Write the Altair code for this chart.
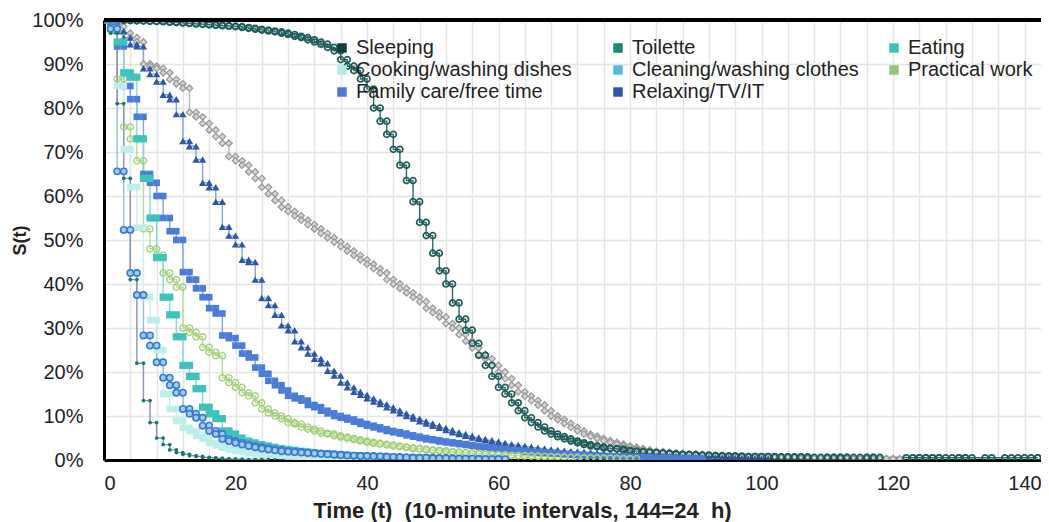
import altair as alt
import pandas as pd

# ---- legend entries (row-major, 3 columns) ----
names = ["Sleeping", "Toilette", "Eating",
         "Cooking/washing dishes", "Cleaning/washing clothes", "Practical work",
         "Family care/free time", "Relaxing/TV/IT"]
legend_colors = ["#103e3e", "#13877b", "#3dc1ba",
                 "#b3ebe5", "#5bb5dd", "#93c47d",
                 "#4a78d8", "#2d56a3"]
other_name = "Other"

# ---- survival values S(t), t = 0,1,2,... (None = no observation) ----
sleeping = [1.0,
    1.0, 1.0, 0.999, 0.999, 0.998, 0.998, 0.997, 0.997, 0.996, 0.995,
    0.994, 0.993, 0.992, 0.991, 0.990, 0.989, 0.988, 0.987, 0.986, 0.985,
    0.983, 0.981, 0.979, 0.977, 0.975, 0.973, 0.970, 0.967, 0.963, 0.960,
    0.955, 0.950, 0.945, 0.938, 0.930, 0.910, 0.895, 0.885, 0.866, 0.843,
    0.800, 0.770, 0.740, 0.706, 0.670, 0.635, 0.587, 0.540, 0.510, 0.470,
    0.430, 0.400, 0.357, 0.320, 0.295, 0.265, 0.238, 0.215, 0.190, 0.165,
    0.150, 0.130, 0.112, 0.096, 0.085, 0.075, 0.066, 0.059, 0.053, 0.048,
    0.043, 0.039, 0.035, 0.032, 0.030, 0.027, 0.026, 0.025, 0.022, 0.020,
    0.019, 0.018, 0.017, 0.016, 0.015, 0.014, 0.013, 0.012, 0.012, 0.011,
    0.011, 0.010, 0.010, 0.009, 0.009, 0.009, 0.008, 0.008, 0.008, 0.008,
    0.008, 0.007, 0.007, 0.007, 0.007, 0.007, 0.006, None, 0.006, 0.006,
    0.006, 0.006, 0.006, None, 0.006, 0.006, 0.006, None, None, None,
    None, 0.005, 0.005, 0.005, 0.005, 0.005, 0.005, None, 0.005, 0.005,
    0.005, None, None, 0.005, None, None, 0.005, None, 0.005, None,
    0.005, 0.005]
toilette = [1.0,
    0.97, 0.81, 0.64, 0.41, 0.22, 0.135, 0.085, 0.05, 0.035, 0.023,
    0.017, 0.013, 0.010, 0.008, 0.006, 0.005, 0.004, 0.003, 0.002, 0.002,
    0.001, 0.001, 0.001, 0.001, 0.0005]
eating = [1.0,
    0.98, 0.95, 0.88, 0.87, 0.73, 0.64, 0.55, 0.46, 0.37, 0.33,
    0.28, 0.215, 0.19, 0.162, 0.12, 0.105, 0.094, 0.066, 0.059, 0.05,
    0.043, 0.039, 0.035, 0.032, 0.029, 0.026, 0.024, 0.022, 0.02, 0.018,
    0.016, 0.015, 0.014, 0.013, 0.012, 0.011, 0.010, 0.009, 0.008, 0.008,
    0.007, 0.006, 0.006, 0.005, 0.005, 0.004, 0.004, 0.003, 0.003, 0.003]
cooking = [1.0,
    0.98, 0.85, 0.706, 0.62, 0.528, 0.37, 0.318, 0.25, 0.15, 0.116,
    0.089, 0.073, 0.066, 0.055, 0.048, 0.039, 0.033, 0.028, 0.024, 0.021,
    0.018, 0.016, 0.014, 0.012, 0.011, 0.010, 0.009, 0.008, 0.007, 0.006,
    0.005, 0.005, 0.004, 0.004, 0.003, 0.003, 0.003, 0.002, 0.002, 0.002]
cleaning = [1.0,
    0.98, 0.656, 0.523, 0.425, 0.375, 0.283, 0.26, 0.222, 0.187, 0.17,
    0.153, 0.116, 0.105, 0.096, 0.078, 0.066, 0.059, 0.048, 0.043, 0.039,
    0.035, 0.032, 0.029, 0.026, 0.024, 0.022, 0.02, 0.019, 0.018, 0.017,
    0.016, 0.015, 0.014, 0.013, 0.012, 0.011, 0.010, 0.010, 0.009, 0.009,
    0.008, 0.008, 0.007, 0.007, 0.006, 0.006, 0.005, 0.005, 0.005, 0.004,
    0.004, 0.004, 0.003, 0.003, 0.003, 0.003, 0.002, 0.002, 0.002, 0.002]
practical = [1.0,
    0.98, 0.866, 0.757, 0.73, 0.68, 0.525, 0.48, 0.466, 0.425, 0.41,
    0.393, 0.30, 0.29, 0.28, 0.256, 0.245, 0.237, 0.187, 0.176, 0.165,
    0.153, 0.146, 0.13, 0.116, 0.107, 0.10, 0.094, 0.085, 0.082, 0.075,
    0.07, 0.066, 0.061, 0.059, 0.055, 0.052, 0.049, 0.046, 0.043, 0.04,
    0.038, 0.036, 0.034, 0.032, 0.03, 0.028, 0.026, 0.025, 0.023, 0.022,
    0.021, 0.019, 0.018, 0.017, 0.016, 0.015, 0.014, 0.013, 0.012, 0.012,
    0.011, 0.010, 0.010, 0.009, 0.009, 0.008, 0.008, 0.007, 0.007, 0.006,
    0.006, 0.005, 0.005, 0.005, 0.004, 0.004, 0.004, 0.003, 0.003, 0.003]
family = [1.0,
    0.99, 0.94, 0.85, 0.82, 0.78, 0.65, 0.63, 0.60, 0.55, 0.52,
    0.50, 0.427, 0.41, 0.39, 0.37, 0.345, 0.333, 0.283, 0.277, 0.26,
    0.242, 0.233, 0.21, 0.196, 0.18, 0.17, 0.158, 0.146, 0.14, 0.135,
    0.125, 0.12, 0.112, 0.106, 0.10, 0.096, 0.092, 0.087, 0.082, 0.078,
    0.074, 0.07, 0.066, 0.063, 0.06, 0.056, 0.053, 0.05, 0.047, 0.045,
    0.042, 0.04, 0.038, 0.036, 0.034, 0.032, 0.03, 0.028, 0.026, 0.025,
    0.023, 0.022, 0.021, 0.019, 0.018, 0.017, 0.016, 0.015, 0.014, 0.013,
    0.012, 0.011, 0.011, 0.010, 0.009, 0.009, 0.008, 0.008, 0.007, 0.007,
    0.006, 0.006, 0.005, 0.005, 0.005, 0.004, 0.004, 0.004, 0.003, 0.003]
relaxing = [1.0,
    0.99, 0.975, 0.96, 0.945, 0.94, 0.89, 0.877, 0.86, 0.83, 0.82,
    0.786, 0.725, 0.713, 0.683, 0.63, 0.62, 0.587, 0.53, 0.51, 0.49,
    0.455, 0.45, 0.41, 0.368, 0.352, 0.33, 0.306, 0.295, 0.27, 0.256,
    0.242, 0.23, 0.22, 0.203, 0.192, 0.176, 0.165, 0.155, 0.148, 0.14,
    0.133, 0.127, 0.12, 0.113, 0.106, 0.10, 0.094, 0.088, 0.083, 0.078,
    0.073, 0.068, 0.063, 0.059, 0.055, 0.051, 0.048, 0.045, 0.042, 0.039,
    0.036, 0.034, 0.032, 0.03, 0.028, 0.026, 0.024, 0.023, 0.021, 0.02,
    0.019, 0.018, 0.017, 0.016, 0.015, 0.014, 0.013, 0.012, 0.011, 0.011,
    0.010, 0.010, 0.009, 0.009, 0.008, 0.008, 0.007, 0.007, 0.006, 0.006,
    0.005, 0.005, 0.005, 0.004, 0.004, 0.004, 0.003, 0.003, 0.003, 0.003]
other = [1.0,
    0.99, 0.985, 0.97, 0.96, 0.95, 0.90, 0.895, 0.89, 0.88, 0.865,
    0.855, 0.845, 0.79, 0.78, 0.765, 0.75, 0.735, 0.72, 0.69, 0.68,
    0.67, 0.655, 0.64, 0.62, 0.605, 0.59, 0.575, 0.565, 0.555, 0.545,
    0.535, 0.525, 0.515, 0.505, 0.495, 0.485, 0.475, 0.465, 0.455, 0.445,
    0.435, 0.425, 0.41, 0.40, 0.39, 0.38, 0.37, 0.36, 0.345, 0.335,
    0.325, 0.31, 0.30, 0.285, 0.27, 0.255, 0.24, 0.23, 0.215, 0.20,
    0.185, 0.17, 0.155, 0.145, 0.135, 0.125, 0.112, 0.10, 0.092, 0.083,
    0.074, 0.066, 0.059, 0.054, 0.049, 0.044, 0.040, 0.036, 0.032, 0.029,
    0.026, 0.023, 0.020, 0.019, 0.017, 0.016, 0.015, 0.014, 0.013, 0.012,
    0.011, 0.010, 0.009, 0.009, 0.008, 0.008, 0.007, 0.007, 0.006, 0.006,
    0.006, 0.005, 0.005, 0.005, 0.005, 0.004, 0.004, 0.004, 0.004, 0.004,
    0.003, 0.003, 0.003, 0.003, 0.003, 0.003, 0.003, 0.003, 0.003, 0.003]

x_ticks = list(range(0, 141, 4))
y_ticks = [0, 0.1, 0.2, 0.3, 0.4, 0.5, 0.6, 0.7, 0.8, 0.9, 1.0]

# ---- per-series style: (values, line colour, marker options) ----
styles = {
    other_name: (other, "#b8b8b8",
                 dict(shape="diamond", filled=True, fill="#d6d6d6", stroke="#9a9a9a", strokeWidth=1.3, size=42)),
    "Sleeping": (sleeping, "#2b6b6b",
                 dict(shape="circle", filled=False, stroke="#1f5d5b", strokeWidth=1.7, size=36)),
    "Relaxing/TV/IT": (relaxing, "#86a3d8",
                       dict(shape="triangle-up", filled=True, color="#2c58a5", size=55)),
    "Family care/free time": (family, "#7fa2e6",
                              dict(shape="square", filled=True, color="#4b7cd8", size=44)),
    "Practical work": (practical, "#b8dc98",
                       dict(shape="circle", filled=False, stroke="#a3cf7b", strokeWidth=1.4, size=38)),
    "Eating": (eating, "#84d9d3",
               dict(shape="square", filled=True, color="#3fc2bb", size=52)),
    "Cooking/washing dishes": (cooking, "#c8f0ec",
                               dict(shape="square", filled=True, color="#bdeeea", size=44)),
    "Cleaning/washing clothes": (cleaning, "#93bde9",
                                 dict(shape="circle", filled=True, fill="#9fcdf2", stroke="#3a7bd0", strokeWidth=1.6, size=40)),
    "Toilette": (toilette, "#8d90b2",
                 dict(shape="circle", filled=True, color="#137a70", size=14)),
}

rows, mrows = [], []
for name, (vals, _, _) in styles.items():
    for t, v in enumerate(vals):
        if v is None:
            continue
        rows.append({"series": name, "t": t, "S": v})
        mrows.append({"series": name, "t": t, "S": v})
        mrows.append({"series": name, "t": t + 1, "S": v})
line_df = pd.DataFrame(rows)
mark_df = pd.DataFrame(mrows)

FONT = "Liberation Sans"

x_scale = alt.Scale(domain=[0, 142.5], nice=False, zero=False)
y_scale = alt.Scale(domain=[0, 1], nice=False)

x_axis = alt.Axis(values=x_ticks,
                  labelExpr="datum.value % 20 == 0 ? datum.label : ''",
                  labelOverlap=False, ticks=False, tickSize=0,
                  grid=True, gridColor="#e4e4e4", gridWidth=1.4,
                  domain=True, domainColor="black", domainWidth=3,
                  labelFontSize=20, labelPadding=13, labelColor="#222",
                  title="Time (t)\u00a0\u00a0(10-minute intervals, 144=24\u00a0\u00a0h)",
                  titleFontSize=22, titleFontWeight="bold", titleColor="#222",
                  titleX=418, titleY=57, titleBaseline="alphabetic", titleAlign="center")
y_axis = alt.Axis(values=y_ticks, format=".0%",
                  ticks=False, tickSize=0,
                  grid=True, gridColor="#e4e4e4", gridWidth=1.4,
                  domain=True, domainColor="black", domainWidth=3,
                  labelFontSize=20, labelPadding=21, labelColor="#222",
                  title="S(t)", titleFontSize=18, titleFontWeight="bold", titleColor="#222",
                  titleX=-84, titleY=220, titleAlign="center", titleBaseline="middle", titleAngle=270)

X = alt.X("t:Q", scale=x_scale, axis=x_axis)
Y = alt.Y("S:Q", scale=y_scale, axis=y_axis)

line_domain = list(styles.keys())
line_range = [styles[k][1] for k in line_domain]

lines = alt.Chart(line_df).mark_line(interpolate="step-after", strokeWidth=1.4, clip=True).encode(
    x=X, y=Y,
    stroke=alt.Stroke("series:N", scale=alt.Scale(domain=line_domain, range=line_range), legend=None),
)

point_layers = []
for name, (_, _, opts) in styles.items():
    point_layers.append(
        alt.Chart(mark_df).transform_filter(alt.datum.series == name)
        .mark_point(clip=True, opacity=1, **opts)
        .encode(x=X, y=Y)
    )

legend_layer = alt.Chart(line_df).transform_filter("false").mark_square(size=90, opacity=1).encode(
    x=X, y=Y,
    color=alt.Color("series:N",
                    scale=alt.Scale(domain=names, range=legend_colors),
                    legend=alt.Legend(title=None, orient="none", legendX=228, legendY=18,
                                      direction="horizontal",
                                      columns=3, gridAlign="all", columnPadding=25, rowPadding=2,
                                      labelFontSize=20, labelFont=FONT, labelColor="#222",
                                      symbolType="square", symbolSize=90, symbolStrokeWidth=0,
                                      symbolOpacity=1,
                                      labelOffset=4, padding=0, labelLimit=400)),
)

top_border = alt.Chart(line_df).mark_rule(color="black", strokeWidth=3).encode(
    y=alt.datum(1.0)
)

chart = alt.layer(lines, *point_layers, legend_layer, top_border).properties(
    width=937, height=440,
    padding={"left": 96, "top": 12, "right": 0, "bottom": 62},
    autosize=alt.AutoSizeParams(type="none"),
).configure(font=FONT).configure_view(stroke=None).configure_axis(
    labelFont=FONT, titleFont=FONT
)

chart.save("out.html", embed_options={"renderer": "svg", "actions": False})
